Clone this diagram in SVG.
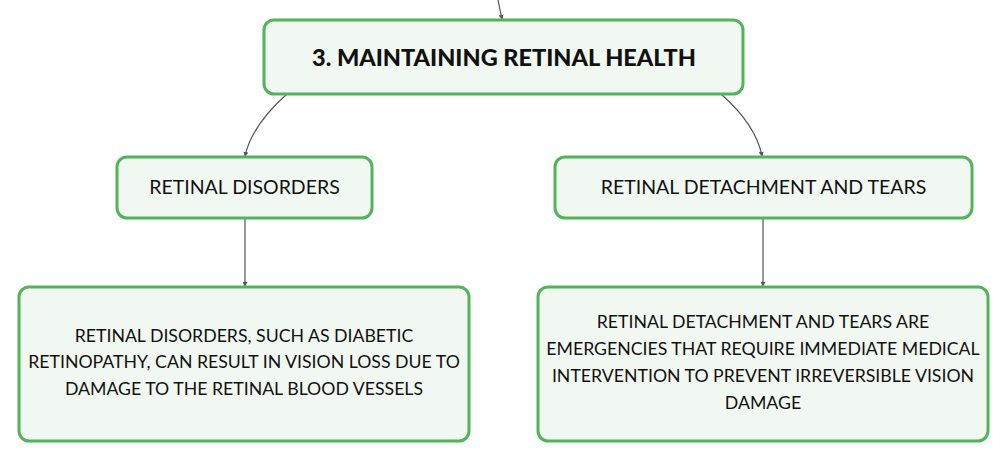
<svg xmlns="http://www.w3.org/2000/svg" width="1008" height="461" viewBox="0 0 1008 461">
<defs>
<style>
.box{fill:#f1f8f2;stroke:#52b45a;stroke-width:3}
.t{font-family:Lato,"Noto Sans","Liberation Sans",sans-serif;fill:#111;text-anchor:middle}
.title{font-size:23.5px;font-weight:900}
.mid{font-size:19.5px}
.body{font-size:17.7px}
.c{fill:none;stroke:#555;stroke-width:1.2}
</style>
<marker id="ah" viewBox="0 0 6 6" refX="5" refY="3" markerWidth="5" markerHeight="5" orient="auto" markerUnits="userSpaceOnUse">
<path d="M0,0 L6,3 L0,6 z" fill="#555"/>
</marker>
</defs>
<rect width="1008" height="461" fill="#fff"/>
<g id="connectors">
<path class="c" d="M498,0 Q500,10 502,19" marker-end="url(#ah)"/>
<path class="c" d="M287,94 Q252,125 245,156" marker-end="url(#ah)"/>
<path class="c" d="M721,94 Q756,125 762,156" marker-end="url(#ah)"/>
<path class="c" d="M245,218 L245,286" marker-end="url(#ah)"/>
<path class="c" d="M763,218 L763,286" marker-end="url(#ah)"/>
</g>
<g id="n-main">
<rect class="box" x="264" y="20" width="479" height="74" rx="10"/>
<text class="t title" x="504" y="65.5">3. MAINTAINING RETINAL HEALTH</text>
</g>
<g id="n-disorders">
<rect class="box" x="117" y="157" width="255" height="61" rx="10"/>
<text class="t mid" x="244.5" y="194">RETINAL DISORDERS</text>
</g>
<g id="n-detachment">
<rect class="box" x="555" y="157" width="417" height="61" rx="10"/>
<text class="t mid" x="763.5" y="194">RETINAL DETACHMENT AND TEARS</text>
</g>
<g id="n-disorders-desc">
<rect class="box" x="19" y="287" width="450" height="154" rx="10"/>
<text class="t body" x="244" y="342.4">RETINAL DISORDERS, SUCH AS DIABETIC</text>
<text class="t body" x="244" y="368.4">RETINOPATHY, CAN RESULT IN VISION LOSS DUE TO</text>
<text class="t body" x="244" y="395.4">DAMAGE TO THE RETINAL BLOOD VESSELS</text>
</g>
<g id="n-detachment-desc">
<rect class="box" x="538" y="287" width="450" height="154" rx="10"/>
<text class="t body" x="763" y="328.4">RETINAL DETACHMENT AND TEARS ARE</text>
<text class="t body" x="763" y="355.4">EMERGENCIES THAT REQUIRE IMMEDIATE MEDICAL</text>
<text class="t body" x="763" y="382.4">INTERVENTION TO PREVENT IRREVERSIBLE VISION</text>
<text class="t body" x="763" y="409.4">DAMAGE</text>
</g>
</svg>
